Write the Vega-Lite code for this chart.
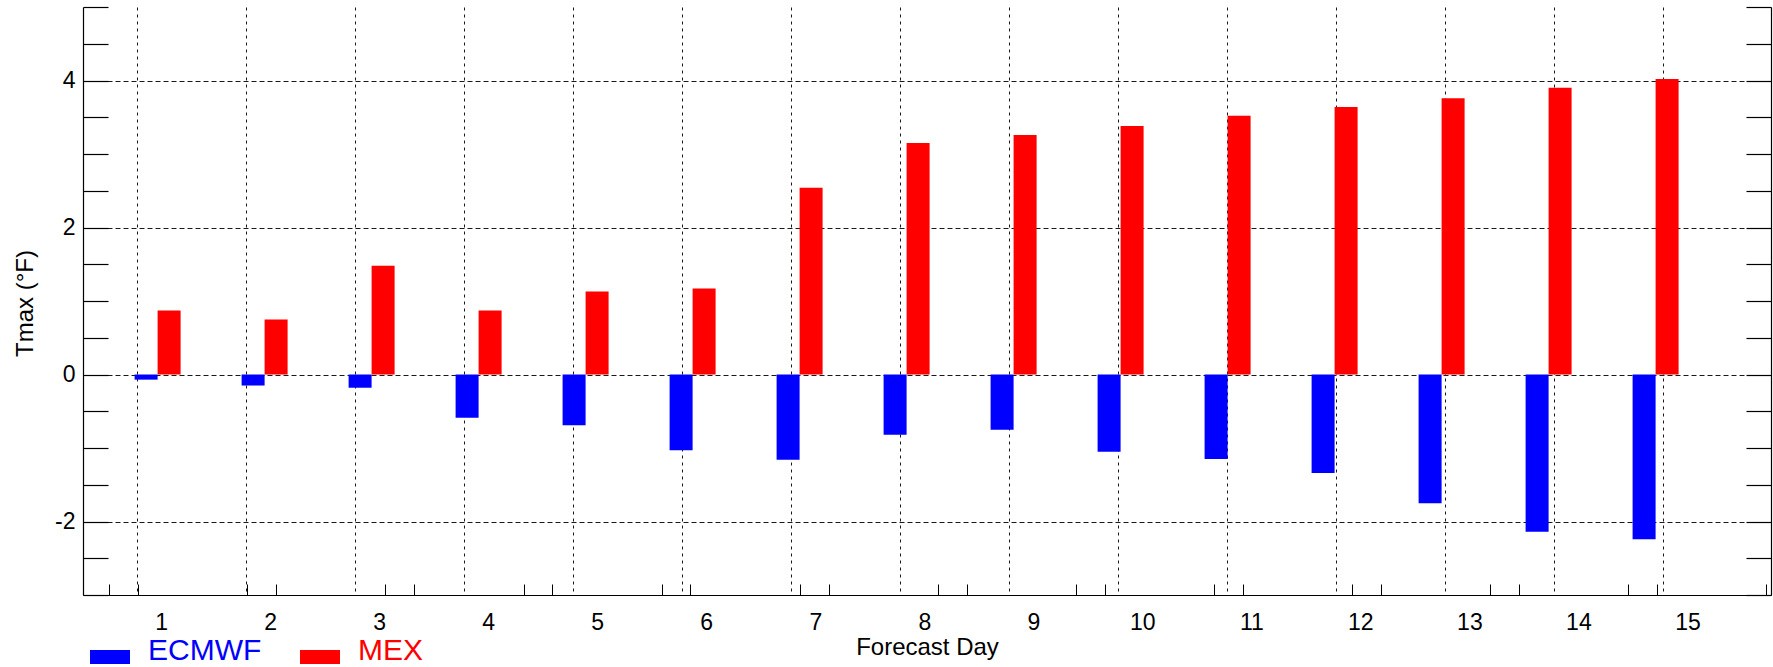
{
  "$schema": "https://vega.github.io/schema/vega-lite/v6.json",
  "width": 1688,
  "height": 588,
  "autosize": {"type": "none"},
  "padding": {"left": 83, "top": 7, "right": 2, "bottom": 72},
  "background": "white",
  "config": {
    "view": {"stroke": null},
    "font": "Liberation Sans",
    "axis": {"labelFont": "Liberation Sans", "titleFont": "Liberation Sans", "labelColor": "#000", "titleColor": "#000", "titleFontWeight": "normal", "domainColor": "#000", "tickColor": "#000", "gridColor": "#000"},
    "legend": {"labelFont": "Liberation Sans"}
  },
  "data": {
    "values": [
      {"day": 1, "model": "ECMWF", "bias": -0.07},
      {"day": 2, "model": "ECMWF", "bias": -0.15},
      {"day": 3, "model": "ECMWF", "bias": -0.18},
      {"day": 4, "model": "ECMWF", "bias": -0.59},
      {"day": 5, "model": "ECMWF", "bias": -0.69},
      {"day": 6, "model": "ECMWF", "bias": -1.03},
      {"day": 7, "model": "ECMWF", "bias": -1.16},
      {"day": 8, "model": "ECMWF", "bias": -0.82},
      {"day": 9, "model": "ECMWF", "bias": -0.75},
      {"day": 10, "model": "ECMWF", "bias": -1.05},
      {"day": 11, "model": "ECMWF", "bias": -1.15},
      {"day": 12, "model": "ECMWF", "bias": -1.34},
      {"day": 13, "model": "ECMWF", "bias": -1.75},
      {"day": 14, "model": "ECMWF", "bias": -2.14},
      {"day": 15, "model": "ECMWF", "bias": -2.24},
      {"day": 1, "model": "MEX", "bias": 0.87},
      {"day": 2, "model": "MEX", "bias": 0.75},
      {"day": 3, "model": "MEX", "bias": 1.48},
      {"day": 4, "model": "MEX", "bias": 0.87},
      {"day": 5, "model": "MEX", "bias": 1.13},
      {"day": 6, "model": "MEX", "bias": 1.17},
      {"day": 7, "model": "MEX", "bias": 2.54},
      {"day": 8, "model": "MEX", "bias": 3.15},
      {"day": 9, "model": "MEX", "bias": 3.26},
      {"day": 10, "model": "MEX", "bias": 3.38},
      {"day": 11, "model": "MEX", "bias": 3.52},
      {"day": 12, "model": "MEX", "bias": 3.64},
      {"day": 13, "model": "MEX", "bias": 3.76},
      {"day": 14, "model": "MEX", "bias": 3.90},
      {"day": 15, "model": "MEX", "bias": 4.02}
    ]
  },
  "layer": [
    {
      "transform": [{"filter": "datum.model === 'ECMWF'"}],
      "mark": {"type": "bar", "orient": "vertical", "width": 23, "xOffset": -11.5},
      "encoding": {
        "x": {
          "field": "day", "type": "quantitative",
          "scale": {"domain": [0.3028, 16.0785], "nice": false, "zero": false, "padding": 0},
          "axis": {
            "orient": "bottom",
            "values": [0.8089, 1.8278, 2.8467, 3.8655, 4.8844, 5.9033, 6.9222, 7.9411, 8.9599, 9.9788, 10.9977, 12.0166, 13.0355, 14.0543, 15.0732],
            "labelExpr": "'' + round(datum.value)",
            "ticks": false,
            "grid": true, "gridDash": [3, 4], "gridWidth": 1, "gridOpacity": 0.9,
            "domain": true, "domainWidth": 1.2,
            "labelOffset": 24, "labelPadding": 34, "labelBaseline": "alphabetic", "labelFontSize": 23,
            "labelFlush": false, "labelOverlap": false,
            "title": "Forecast Day", "titleFontSize": 24, "titleY": 59, "titleX": 844, "titleBaseline": "alphabetic"
          }
        },
        "y": {
          "field": "bias", "type": "quantitative", "stack": null,
          "scale": {"domain": [-3, 5], "nice": false, "zero": false, "padding": 0},
          "axis": {
            "orient": "left",
            "values": [-3, -2.5, -2, -1.5, -1, -0.5, 0, 0.5, 1, 1.5, 2, 2.5, 3, 3.5, 4, 4.5, 5],
            "labelExpr": "datum.value % 2 === 0 ? '' + datum.value : ''",
            "tickSize": -25, "tickWidth": 1.2,
            "labelPadding": 33, "labelFontSize": 23, "labelFlush": false, "labelOverlap": false,
            "grid": true, "gridDash": [5, 3], "gridWidth": 1,
            "gridOpacity": {"condition": {"test": "datum.value % 2 === 0", "value": 0.9}, "value": 0},
            "domain": true, "domainWidth": 1.2,
            "title": "Tmax (°F)", "titleFontSize": 24, "titleX": -51, "titleY": 296, "titleBaseline": "alphabetic", "titleAngle": 270
          }
        },
        "color": {
          "field": "model", "type": "nominal",
          "scale": {"domain": ["ECMWF", "MEX"], "range": ["#0000ff", "#ff0000"]},
          "legend": {
            "orient": "none", "legendX": 7, "legendY": 630, "direction": "horizontal", "title": null,
            "symbolType": "M-1,-0.35H1V0.35H-1Z", "symbolSize": 1600, "symbolStrokeWidth": 0, "symbolOpacity": 1,
            "labelFontSize": 30, "labelOffset": 18, "columnPadding": 38, "padding": 0, "labelBaseline": "alphabetic", "labelLimit": 400,
            "encode": {"labels": {"update": {"fill": {"signal": "datum.value === 'ECMWF' ? '#0000ff' : '#ff0000'"}, "dy": {"value": 3}}}}
          }
        }
      }
    },
    {
      "transform": [{"filter": "datum.model === 'MEX'"}],
      "mark": {"type": "bar", "orient": "vertical", "width": 23, "xOffset": 11.5},
      "encoding": {
        "x": {
          "field": "day", "type": "quantitative",
          "axis": {
            "orient": "bottom",
            "values": [0.5486, 0.8178, 1.8391, 2.1083, 3.1295, 3.3987, 4.42, 4.6892, 5.7105, 5.9797, 7.001, 7.2702, 8.2914, 8.5606, 9.5819, 9.8511, 10.8724, 11.1416, 12.1628, 12.432, 13.4533, 13.7225, 14.7438, 15.013, 16.0342],
            "labels": false, "grid": false, "domain": false,
            "ticks": true, "tickSize": -11, "tickWidth": 1,
            "title": null
          }
        },
        "y": {
          "field": "bias", "type": "quantitative", "stack": null,
          "axis": {
            "orient": "right",
            "values": [-3, -2.5, -2, -1.5, -1, -0.5, 0, 0.5, 1, 1.5, 2, 2.5, 3, 3.5, 4, 4.5, 5],
            "labels": false, "grid": false, "domain": true, "domainWidth": 1.2,
            "tickSize": -25, "tickWidth": 1.2,
            "title": null
          }
        },
        "color": {"field": "model", "type": "nominal"}
      }
    }
  ],
  "resolve": {"axis": {"x": "independent", "y": "independent"}}
}
